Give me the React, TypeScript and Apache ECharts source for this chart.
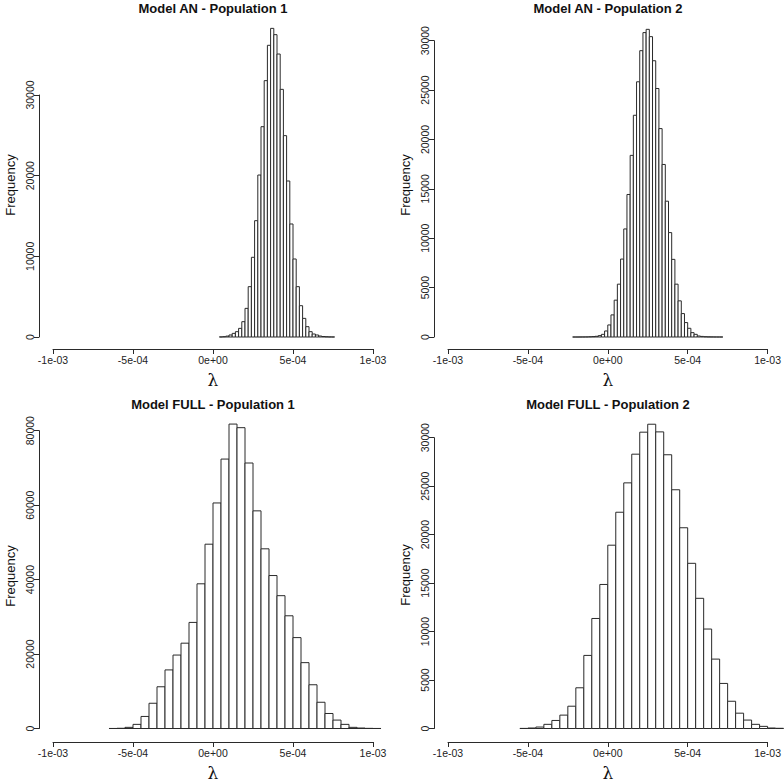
import React, { useEffect, useRef } from 'react';
import * as echarts from 'echarts';

// ---- data ----
const xTickLabels = ['-1e-03', '-5e-04', '0e+00', '5e-04', '1e-03'];
const titles = [
  'Model AN - Population 1',
  'Model AN - Population 2',
  'Model FULL - Population 1',
  'Model FULL - Population 2',
];
const yAxisTitle = 'Frequency';
const xAxisTitle = 'λ';

// Model AN - Population 1 : bins of width 2e-5 starting at 4e-5
const an1Start = 4e-5;
const an1Width = 2e-5;
const an1Counts = [
  10, 40, 110, 250, 450, 660, 1070, 1900, 3550, 6240, 9880, 14420, 20080, 26070, 31780, 36160,
  38260, 37480, 35080, 30700, 24960, 19340, 14010, 9670, 6240, 3880, 2310, 1280, 660, 370, 250,
  120, 60, 30, 10, 5,
];

// Model AN - Population 2 : bins of width 2e-5 starting at -2.2e-4
const an2Start = -2.2e-4;
const an2Width = 2e-5;
const an2Counts = [
  0, 0, 2, 5, 10, 25, 40, 70, 140, 270, 610, 1220, 2240, 3730, 5350, 7890, 10940, 14430, 18390,
  22450, 25840, 28990, 30820, 31150, 30410, 27970, 25160, 21100, 17470, 13750, 10570, 7860, 5350,
  3660, 2370, 1460, 880, 440, 270, 100, 60, 30, 15, 8, 4, 2, 1,
];

// Model FULL - Population 1 : bins of width 5e-5 starting at -6.5e-4
const full1Start = -6.5e-4;
const full1Width = 5e-5;
const full1Counts = [
  10, 60, 310, 1110, 3240, 6780, 11210, 15740, 19730, 22920, 28500, 38870, 49510, 60590, 72380,
  81780, 80810, 71320, 58470, 48270, 41090, 35680, 30280, 24420, 17690, 11750, 7050, 4030, 2260,
  1110, 310, 130, 40, 10,
];

// Model FULL - Population 2 : bins of width 5e-5 starting at -5.5e-4
const full2Start = -5.5e-4;
const full2Width = 5e-5;
const full2Counts = [
  10, 50, 150, 430, 830, 1380, 2300, 4200, 7540, 11350, 14860, 18910, 22310, 25340, 28300, 30570,
  31390, 30600, 28240, 24630, 20710, 17040, 13430, 10260, 7160, 4650, 2810, 1580, 870, 430, 220,
  50, 20,
];

const yMax = [30000, 30000, 80000, 30000];
const yInterval = [10000, 5000, 20000, 5000];

// ---- layout (pixels) ----
const panels = [
  { left: 53, top: 95, width: 320, height: 242, xOff: 12, yOff: 14, titleY: 8, freqX: 10, freqY: 185 },
  { left: 448, top: 40.7, width: 320, height: 296.3, xOff: 12, yOff: 14, titleY: 8, freqX: 405, freqY: 185 },
  { left: 53, top: 430.7, width: 320, height: 300.8, xOff: 13.5, yOff: 14, titleY: 404, freqX: 10, freqY: 576 },
  { left: 448, top: 437.7, width: 320, height: 293.8, xOff: 13.5, yOff: 14, titleY: 404, freqX: 405, freqY: 575 },
];

const hists = [
  { start: an1Start, width: an1Width, counts: an1Counts },
  { start: an2Start, width: an2Width, counts: an2Counts },
  { start: full1Start, width: full1Width, counts: full1Counts },
  { start: full2Start, width: full2Width, counts: full2Counts },
];

const FONT = 'Liberation Sans, Arial, Helvetica, sans-serif';
const LINE = '#2a2a2a';

export default function App() {
  const ref = useRef<HTMLDivElement>(null);

  useEffect(() => {
    if (!ref.current) return;
    const chart = echarts.init(ref.current, undefined, { renderer: 'svg' });

    const grid = panels.map((p) => ({
      left: p.left,
      top: p.top,
      width: p.width,
      height: p.height,
      containLabel: false,
    }));

    const xAxis = panels.map((p, i) => ({
      type: 'value',
      gridIndex: i,
      min: -1e-3,
      max: 1e-3,
      interval: 5e-4,
      position: 'bottom',
      offset: p.xOff,
      splitLine: { show: false },
      axisLine: { show: true, onZero: false, lineStyle: { color: LINE, width: 1 } },
      axisTick: { show: true, length: 5, lineStyle: { color: LINE, width: 1 } },
      axisLabel: {
        color: '#222',
        fontSize: 10.5,
        fontFamily: FONT,
        margin: 5,
        formatter: (v: number) => xTickLabels[Math.round((v + 1e-3) / 5e-4)] ?? '',
      },
      name: xAxisTitle,
      nameLocation: 'middle',
      nameGap: 22,
      nameTextStyle: { fontSize: 17, fontFamily: 'DejaVu Serif, serif', color: '#111' },
    }));

    const yAxis = panels.map((p, i) => ({
      type: 'value',
      gridIndex: i,
      min: 0,
      max: yMax[i],
      interval: yInterval[i],
      position: 'left',
      offset: p.yOff,
      splitLine: { show: false },
      axisLine: { show: true, onZero: false, lineStyle: { color: LINE, width: 1 } },
      axisTick: { show: true, length: 5, lineStyle: { color: LINE, width: 1 } },
      axisLabel: {
        color: '#222',
        fontSize: 10.5,
        fontFamily: FONT,
        rotate: 90,
        margin: 4,
        formatter: (v: number) => String(v),
      },
    }));

    const series = hists.map((h, i) => ({
      type: 'custom',
      xAxisIndex: i,
      yAxisIndex: i,
      clip: false,
      data: h.counts.map((c, k) => [h.start + k * h.width, h.start + (k + 1) * h.width, c]),
      encode: { x: [0, 1], y: 2 },
      renderItem: (_params: any, api: any) => {
        const x0 = api.value(0);
        const x1 = api.value(1);
        const c = api.value(2);
        const p0 = api.coord([x0, c]);
        const p1 = api.coord([x1, 0]);
        return {
          type: 'rect',
          shape: { x: p0[0], y: p0[1], width: p1[0] - p0[0], height: p1[1] - p0[1] },
          style: { fill: '#ffffff', stroke: LINE, lineWidth: 1 },
        };
      },
    }));

    const graphic: any[] = [];
    panels.forEach((p, i) => {
      graphic.push({
        type: 'text',
        x: p.left + p.width / 2,
        y: p.titleY,
        style: {
          text: titles[i],
          font: `bold 13px ${FONT}`,
          fill: '#111',
          textAlign: 'center',
          textVerticalAlign: 'middle',
        },
      });
      graphic.push({
        type: 'text',
        x: p.freqX,
        y: p.freqY,
        rotation: Math.PI / 2,
        style: {
          text: yAxisTitle,
          font: `13px ${FONT}`,
          fill: '#111',
          textAlign: 'center',
          textVerticalAlign: 'middle',
        },
      });
    });

    chart.setOption({
      animation: false,
      backgroundColor: '#ffffff',
      grid,
      xAxis,
      yAxis,
      series,
      graphic,
    } as any);

    return () => chart.dispose();
  }, []);

  return (
    <div
      ref={ref}
      style={{ position: 'absolute', left: 0, top: 0, width: 784, height: 782 }}
    />
  );
}
